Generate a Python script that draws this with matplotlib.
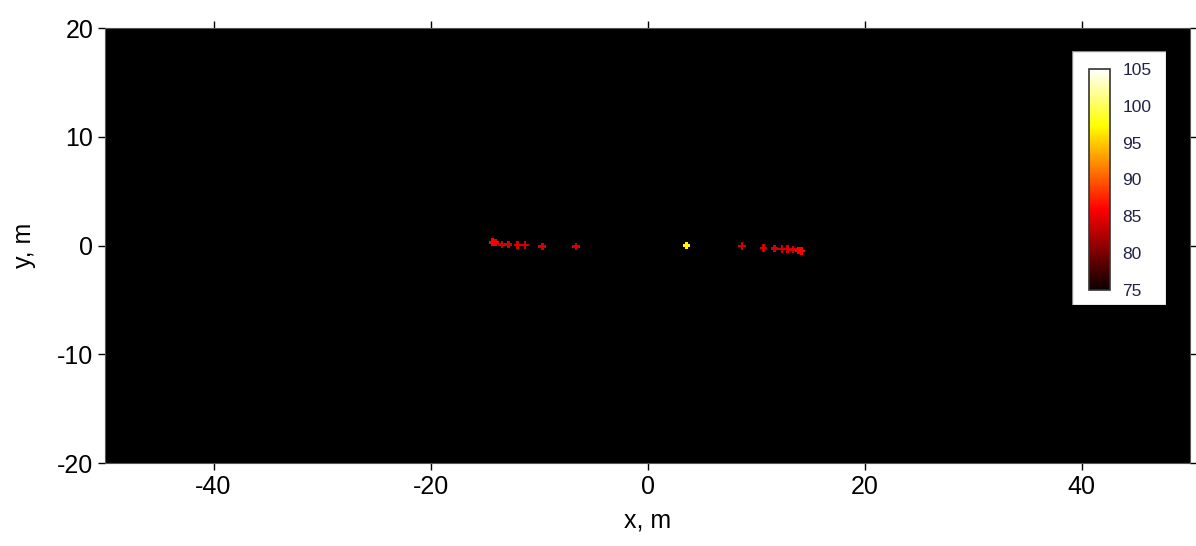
import matplotlib
matplotlib.use('Agg')
import matplotlib.pyplot as plt
from matplotlib.patches import Rectangle

plt.rcParams['font.family'] = ['Liberation Sans', 'DejaVu Sans']
plt.rcParams['axes.unicode_minus'] = False

# source positions (m) and levels
xs = [-14.3, -14.0, -13.4, -12.8, -12.0, -11.3, -9.7, -6.6, 3.6,
      8.7, 10.7, 11.7, 12.4, 12.9, 13.4, 13.9, 14.2]
ys = [0.3, 0.28, 0.1, 0.08, 0.05, 0.05, -0.1, -0.1, 0.0,
      -0.05, -0.25, -0.27, -0.3, -0.33, -0.38, -0.45, -0.5]
levels = [86, 85.5, 84, 84, 84, 84, 84, 84, 97,
          84, 84, 84, 84, 84, 84, 85.5, 86]
cbar_ticks = [75, 80, 85, 90, 95, 100, 105]

fig = plt.figure(figsize=(11.96, 5.46), dpi=100)
ax = fig.add_axes([0.0878, 0.152, 0.9072, 0.7967])
ax.set_facecolor('black')
sc = ax.scatter(xs, ys, c=levels, cmap='hot', vmin=75, vmax=105,
                marker='P', s=30, linewidths=0)
ax.set_xlim(-50, 50)
ax.set_ylim(-20, 20)
ax.set_xticks([-40, -20, 0, 20, 40])
ax.set_yticks([-20, -10, 0, 10, 20])
ax.tick_params(direction='out', length=5, width=1, labelsize=18,
               top=True, right=True)
for sp in ax.spines.values():
    sp.set_color('#555555')
ax.set_xlabel('x, m', fontsize=18, labelpad=7)
ax.set_ylabel('y, m', fontsize=18, labelpad=15)

# white box behind the colorbar
box = fig.add_axes([0.8963, 0.4414, 0.0786, 0.465])
box.add_patch(Rectangle((0, 0), 1, 1, facecolor='white',
                        edgecolor='#888888', transform=box.transAxes))
box.axis('off')

cax = fig.add_axes([0.9105, 0.4689, 0.01756, 0.4048])
cb = fig.colorbar(sc, cax=cax, ticks=cbar_ticks)
cb.outline.set_edgecolor('#333333')
cb.outline.set_linewidth(1.2)
cax.tick_params(length=0, labelsize=12.5, pad=9, labelcolor='#222244')

fig.savefig('out.png', dpi=100)
